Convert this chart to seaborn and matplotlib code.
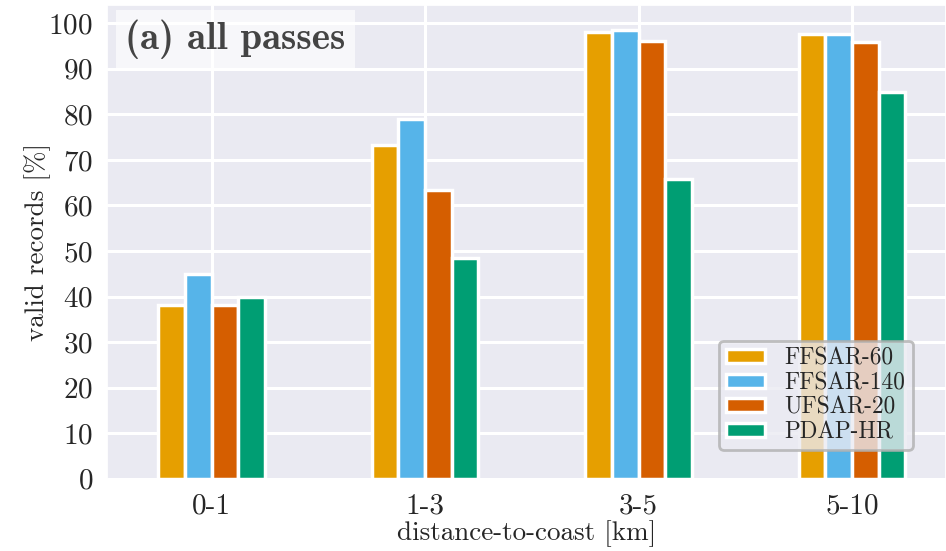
import matplotlib
matplotlib.use("Agg")
import matplotlib.pyplot as plt
import seaborn as sns
import pandas as pd

# distance bins and products
distances = ["0-1", "1-3", "3-5", "5-10"]
products = ["FFSAR-60", "FFSAR-140", "UFSAR-20", "PDAP-HR"]
colors = ["#E69F00", "#56B4E9", "#D55E00", "#009E73"]

# valid records [%] per product, one value per distance bin
ffsar60 = [38.2, 73.2, 98.0, 97.6]
ffsar140 = [45.0, 79.0, 98.6, 97.6]
ufsar20 = [38.2, 63.4, 96.0, 95.8]
pdaphr = [39.9, 48.5, 65.7, 84.9]

yticks = list(range(0, 101, 10))


def main():
    sns.set_theme(style="darkgrid")
    plt.rcParams["font.family"] = "serif"
    plt.rcParams["font.serif"] = ["cmr10", "DejaVu Serif"]
    plt.rcParams["axes.unicode_minus"] = False
    plt.rcParams["axes.formatter.use_mathtext"] = True

    df = pd.DataFrame({
        "distance": distances * 4,
        "product": [p for p in products for _ in distances],
        "valid": ffsar60 + ffsar140 + ufsar20 + pdaphr,
    })

    fig = plt.figure(figsize=(9.46, 5.51), dpi=100)
    ax = fig.add_axes([0.113, 0.131, 0.887, 0.860])

    sns.barplot(data=df, x="distance", y="valid", hue="product",
                hue_order=products, order=distances, palette=colors,
                width=0.5, edgecolor="white", linewidth=2.5,
                saturation=1, errorbar=None, ax=ax)

    ax.grid(True, color="white", linewidth=2.2)
    ax.set_axisbelow(True)
    ax.set_xlim(-0.49, 3.44)
    ax.set_ylim(0, 104)
    ax.set_yticks(yticks)
    ax.tick_params(axis="both", labelsize=21, pad=4)
    ax.set_xlabel("distance-to-coast [km]", fontsize=19.5, labelpad=1)
    ax.set_ylabel("valid records [%]", fontsize=19.5, labelpad=-2)

    ax.text(0.022, 0.927, "(a) all passes", transform=ax.transAxes,
            fontsize=28, family="cmb10", color="#444444",
            va="center", ha="left",
            bbox=dict(boxstyle="square,pad=0.25", facecolor="white",
                      edgecolor="none", alpha=0.65))

    leg = ax.legend(loc="lower right", bbox_to_anchor=(0.974, 0.036),
                    fontsize=16.8, labelspacing=0.1, handlelength=1.65,
                    handleheight=0.55, handletextpad=0.85, borderpad=0.3,
                    framealpha=0.8, edgecolor="#b0b0b0")
    leg.get_frame().set_linewidth(2)

    fig.savefig("out.png", dpi=100)


if __name__ == "__main__":
    main()
